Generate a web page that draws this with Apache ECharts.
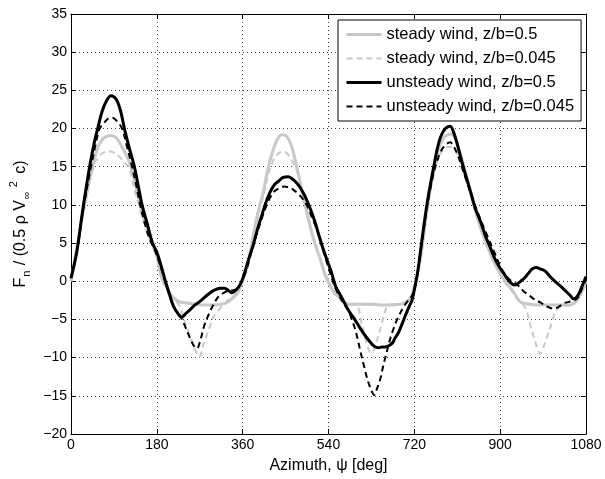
<!DOCTYPE html>
<html>
<head>
<meta charset="utf-8">
<script src="https://cdn.jsdelivr.net/npm/echarts@6/dist/echarts.min.js"></script>
<style>html,body{margin:0;padding:0;background:#fff;}#chart{width:605px;height:479px;}</style>
</head>
<body>
<div id="chart"></div>
<script>
// ---- data (azimuth in deg, normal force coefficient) ----
var seriesNames = ['steady wind, z/b=0.5', 'steady wind, z/b=0.045', 'unsteady wind, z/b=0.5', 'unsteady wind, z/b=0.045'];
var xTicks = [0, 180, 360, 540, 720, 900, 1080];
var yTicks = [-20, -15, -10, -5, 0, 5, 10, 15, 20, 25, 30, 35];

var steady05Psi = [0,14,28,45,55,65,75,84,95,105,116,126,136,145,158,170,180,190,200,210,218,228,240,260,280,300,315,327,337,347,355,361,368,375,382,392,403,412,422,432,442,452,462,473,482,492,501,512,522,532,543,552,561,571,585,610,630,648,670,690,700,712,720,727,733,740,748,757,766,775,785,797,806,815,825,835,848,860,872,885,900,912,921,932,942,953,963,980,1000,1020,1047,1060,1068,1074,1080];
var steady05F   = [0,5,10,15,17.3,18.5,19,19.1,18.8,17.8,16.5,15,12.5,10,7.3,5,3.3,0.5,-0.8,-1.8,-2.3,-2.7,-2.8,-3,-3.1,-3.1,-3,-2.8,-2.3,-1.7,-0.8,0.3,1.75,3.5,6,9,11.6,14.5,16.8,18.5,19.2,19,17.8,15.1,12.5,9.7,7.3,4.8,3,1,-0.5,-1.5,-2,-2.7,-3,-3,-3,-3.1,-3.1,-3,-2.8,-2.2,-0.8,1.2,3,6.3,10,13.5,16.3,18,19,19.3,18.7,17,14.8,12.4,9.3,6.8,4.8,2.8,1,-0.2,-0.8,-1.8,-2.7,-2.9,-3,-3.1,-3.1,-3.1,-3.1,-2.5,-1.8,-1,0];

var steady045Psi = [0,14,28,47,58,70,81,92,103,113,121,131,142,155,168,180,190,200,210,218,228,240,252,262,269,276,285,292,299,308,316,325,334,342,350,357,362,368,376,384,394,404,414,424,434,445,455,465,475,484,494,503,514,524,534,544,553,562,572,585,600,610,616,621,626,631,638,645,652,659,666,680,695,705,713,720,727,734,741,749,758,767,776,787,797,806,815,825,835,848,860,872,885,900,912,921,932,942,950,957,963,970,977,984,991,1002,1010,1016,1026,1040,1055,1065,1072,1080];
var steady045F   = [0,4.8,9.5,15,16.3,16.9,17,16.8,16.2,15.5,15,12.5,10,7.3,5,3.3,0.5,-0.8,-1.8,-2.4,-3.3,-5.5,-7.6,-9.2,-9.9,-8.6,-7,-5.8,-4.6,-3.9,-3.3,-2.7,-2.2,-1.9,-1.2,-0.5,0.3,1.7,3.6,6,8.9,11.4,14,15.8,16.7,17,16.6,15.6,14.2,12,9.5,7.1,4.7,2.9,1,-0.5,-1.5,-2.1,-2.7,-3,-3.2,-5.7,-7.2,-8.3,-9.2,-9.4,-8.5,-7,-5.5,-3.9,-3.1,-3,-3,-2.7,-2.1,-0.8,1.2,3.2,6.4,10,13.2,15.6,16.9,17.5,17.6,17.1,15.9,14,12,9,6.6,4.6,2.7,0.9,-0.3,-0.9,-2,-2.8,-3.2,-4.2,-5.7,-7.2,-8.6,-9.5,-8.6,-6.6,-5.1,-4,-3.3,-3.2,-3,-2.2,-1.2,0];

var unsteady05Psi = [0,12,25,39,50,56,65,75,84,95,104,112,122,133,141,149,160,171,180,190,198,207,215,224,232,241,250,260,271,282,292,303,313,322,330,337,343,351,358,365,373,382,391,400,408,417,426,435,445,456,466,477,486,494,503,512,520,529,538,547,555,563,570,579,586,593,602,610,619,628,636,645,652,659,665,670,675,680,686,691,698,705,710,715,721,727,733,740,747,754,761,768,775,785,795,803,812,820,829,838,848,859,870,880,890,900,908,915,922,930,937,945,952,960,967,975,985,995,1005,1015,1026,1036,1046,1054,1060,1066,1072,1080];
var unsteady05F   = [0.4,3.8,9.5,15,18.5,20,22.2,23.7,24.3,23.8,22.3,20,17.5,15,12.5,10,7.5,5,3.8,1.8,0,-1.8,-3.3,-4.2,-4.7,-4.2,-3.7,-3.1,-2.6,-2,-1.5,-1.1,-0.9,-0.9,-1.2,-1.5,-1.3,-0.8,0,1.3,3,4.7,6.8,8.6,10.2,11.6,12.6,13.1,13.6,13.7,13.3,12.6,11.7,10.7,9.3,7.7,6,4.2,2.6,1,-0.7,-1.6,-2.4,-3.5,-4.2,-4.8,-5.7,-6.5,-7.3,-8,-8.5,-8.7,-8.6,-8.6,-8.5,-8.3,-8,-7.4,-6.8,-6.1,-5,-3.9,-3.2,-2.5,-0.8,1.2,4,7.3,10.3,12.8,15.1,17.3,18.9,20,20.3,19.4,17.5,15.6,13.6,11.7,9.5,7.8,5.8,4.3,2.8,1.7,1,0.3,-0.2,-0.5,-0.3,0.1,0.5,1.1,1.6,1.8,1.6,1.3,0.6,0,-0.6,-1.2,-1.8,-2.3,-2.1,-1.5,-0.6,0.6];

var unsteady045Psi = [0,12,25,42,52,60,70,78,87,96,107,118,128,137,145,155,165,175,185,195,205,215,222,228,240,250,258,264,271,278,285,292,300,309,318,327,336,345,352,360,368,380,390,400,408,417,427,437,447,456,466,477,486,494,505,515,525,535,545,555,565,575,582,590,596,602,607,614,621,628,636,642,649,654,659,665,670,677,684,691,698,705,712,718,724,730,737,745,752,760,768,777,786,795,803,812,820,828,838,850,862,874,887,900,910,920,932,942,949,960,970,985,998,1012,1024,1033,1044,1054,1062,1070,1080];
var unsteady045F   = [0.4,3.8,9.2,15,18,20,20.8,21.3,21.4,21,20,17.5,15,12.5,10,7.5,5.5,4.2,2.5,0.5,-1.5,-3.3,-4,-4.4,-6,-7.5,-8.5,-8.8,-7.8,-6.1,-4.9,-3.9,-2.9,-2,-1.6,-1.3,-1.2,-1.1,-0.7,0.2,1.5,4.2,6.3,8.2,9.6,10.9,11.8,12.2,12.4,12.3,12,11.4,10.8,10,8.4,6.9,4.9,2.8,0.8,-1,-2.2,-3.2,-3.9,-5.2,-6.3,-7.8,-9.2,-11,-12.7,-14,-14.9,-14,-12.7,-11.3,-10,-8.6,-7.4,-6.1,-5,-4.1,-3.3,-2.7,-2.2,-1.5,0,2.5,5.5,9,11.6,14,15.8,17.2,17.9,18.2,17.6,16.4,14.9,13.4,11.6,9.5,7.6,5.8,3.9,2,0.9,0.2,-0.3,-0.8,-1.3,-1.8,-2.3,-2.8,-3.3,-3.6,-3.3,-2.9,-2.7,-2.5,-2.2,-1.2,0.3];

function pairs(xs, ys) { return xs.map(function (x, i) { return [x, ys[i]]; }); }
function fmtMinus(v) { return String(v).replace('-', '\u2212'); }

var FONT = 'Liberation Sans, Arial, Helvetica, sans-serif';
var GREY = '#c8c8c8';

var chart = echarts.init(document.getElementById('chart'), null, { renderer: 'canvas' });

var baseX = {
  type: 'value', min: 0, max: 1080, interval: 180,
  axisLine: { show: true, onZero: false, lineStyle: { color: '#000', width: 1 } },
  axisTick: { show: true, inside: true, length: 5, lineStyle: { color: '#000' } },
  splitLine: { show: false }
};
var baseY = {
  type: 'value', min: -20, max: 35, interval: 5,
  axisLine: { show: true, onZero: false, lineStyle: { color: '#000', width: 1 } },
  axisTick: { show: true, inside: true, length: 5, lineStyle: { color: '#000' } },
  splitLine: { show: false }
};

var legendWidths = [3, 2, 3, 2];

var option = {
  animation: false,
  backgroundColor: '#fff',
  textStyle: { fontFamily: FONT },
  grid: { left: 71, right: 19, top: 14, bottom: 44, containLabel: false },
  legend: {
    orient: 'vertical',
    left: 338, top: 20,
    data: seriesNames.map(function (n, i) { return { name: n, lineStyle: { width: legendWidths[i] } }; }),
    itemWidth: 35, itemHeight: 14, itemGap: 7,
    padding: [6, 7, 6, 7],
    backgroundColor: '#fff',
    borderColor: '#000', borderWidth: 1, borderRadius: 0,
    itemStyle: { opacity: 0 },
    lineStyle: { width: 'inherit' },
    textStyle: { fontFamily: FONT, fontSize: 16.5, color: '#000' }
  },
  xAxis: [
    Object.assign({}, baseX, {
      position: 'bottom',
      name: 'Azimuth, \u03c8 [deg]', nameLocation: 'middle', nameGap: 24,
      nameTextStyle: { fontFamily: FONT, fontSize: 16, color: '#000' },
      axisLabel: { show: true, color: '#000', fontSize: 14, fontFamily: FONT, margin: 4, formatter: fmtMinus },
      splitLine: { show: true, lineStyle: { color: '#444', width: 1, type: [1, 3] } }
    }),
    Object.assign({}, baseX, { position: 'top', axisLabel: { show: false } })
  ],
  yAxis: [
    Object.assign({}, baseY, {
      position: 'left',
      name: '{t|F}{s|n}{t| / (0.5 \u03c1 V}{s|\u221e}{p|2}{t| c)}',
      nameLocation: 'middle', nameGap: 26, nameRotate: 90,
      nameTextStyle: {
        fontFamily: FONT, color: '#000',
        rich: {
          t: { fontFamily: FONT, fontSize: 16, color: '#000', lineHeight: 24, verticalAlign: 'middle' },
          s: { fontFamily: FONT, fontSize: 11, color: '#000', lineHeight: 11, verticalAlign: 'bottom', padding: [0, 1, 0, 1] },
          p: { fontFamily: FONT, fontSize: 11, color: '#000', lineHeight: 11, verticalAlign: 'top', padding: [0, 3, 0, 3] }
        }
      },
      axisLabel: { show: true, color: '#000', fontSize: 14, fontFamily: FONT, margin: 4, formatter: fmtMinus },
      splitLine: { show: true, lineStyle: { color: '#444', width: 1, type: [1, 3] } }
    }),
    Object.assign({}, baseY, { position: 'right', axisLabel: { show: false } })
  ],
  series: [
    { name: seriesNames[0], type: 'line', data: pairs(steady05Psi, steady05F), showSymbol: false, symbol: 'none',
      smooth: 0.35, lineStyle: { color: GREY, width: 3, type: 'solid' }, itemStyle: { color: GREY }, z: 2 },
    { name: seriesNames[1], type: 'line', data: pairs(steady045Psi, steady045F), showSymbol: false, symbol: 'none',
      smooth: 0.35, lineStyle: { color: GREY, width: 2, type: [6, 4] }, itemStyle: { color: GREY }, z: 3 },
    { name: seriesNames[2], type: 'line', data: pairs(unsteady05Psi, unsteady05F), showSymbol: false, symbol: 'none',
      smooth: 0.35, lineStyle: { color: '#000', width: 3, type: 'solid' }, itemStyle: { color: '#000' }, z: 4 },
    { name: seriesNames[3], type: 'line', data: pairs(unsteady045Psi, unsteady045F), showSymbol: false, symbol: 'none',
      smooth: 0.35, lineStyle: { color: '#000', width: 2, type: [6, 4] }, itemStyle: { color: '#000' }, z: 5 }
  ]
};
chart.setOption(option);
</script>
</body>
</html>
